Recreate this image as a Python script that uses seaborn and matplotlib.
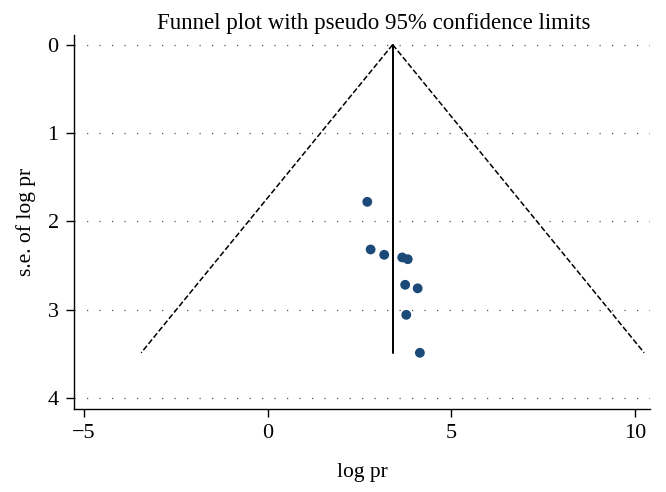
import matplotlib.pyplot as plt
import numpy as np
import pandas as pd
import seaborn as sns

# study estimates
log_pr = [2.71, 2.80, 3.17, 3.66, 3.81, 3.74, 4.08, 3.77, 4.14]
se_log_pr = [1.78, 2.32, 2.38, 2.41, 2.43, 2.72, 2.76, 3.06, 3.49]
pooled = 3.40
max_se = 3.49
z95 = 1.96

sns.set_theme(style="ticks")
plt.rcParams['font.family'] = ['Liberation Serif', 'DejaVu Serif']
plt.rcParams['text.color'] = 'black'
plt.rcParams['axes.labelcolor'] = 'black'

df = pd.DataFrame({"log pr": log_pr, "se": se_log_pr})

fig = plt.figure(figsize=(6.66, 4.92), dpi=100)
ax = fig.add_axes([0.111, 0.169, 0.865, 0.76])

# horizontal dotted grid
for yv in range(5):
    ax.axhline(yv, color="#555555", linestyle=(0, (1, 9)), linewidth=0.9, zorder=0)

# pseudo 95% limits
se_line = np.array([0, max_se])
ax.plot(pooled - z95 * se_line, se_line, color="black", linestyle="--", linewidth=1.1)
ax.plot(pooled + z95 * se_line, se_line, color="black", linestyle="--", linewidth=1.1)
ax.plot([pooled, pooled], se_line, color="black", linewidth=1.4)

sns.scatterplot(data=df, x="log pr", y="se", ax=ax, color="#1b4a78",
                s=50, edgecolor="none", zorder=3)

ax.set_xlim(-5.27, 10.4)
ax.set_ylim(4.125, -0.11)
ax.set_xticks([-5, 0, 5, 10])
ax.set_xticklabels(["\u22125", "0", "5", "10"])
ax.set_yticks([0, 1, 2, 3, 4])
ax.tick_params(axis="both", direction="out", length=6, width=1, labelsize=16,
               colors="black", pad=5)
for side in ["top", "right"]:
    ax.spines[side].set_visible(False)
for side in ["left", "bottom"]:
    ax.spines[side].set_color("black")
    ax.spines[side].set_linewidth(1)

ax.set_xlabel("log pr", fontsize=15.5, labelpad=14)
ax.set_ylabel("s.e. of log pr", fontsize=15.5, labelpad=8)
ax.set_title("Funnel plot with pseudo 95% confidence limits", fontsize=16.5,
             pad=4, x=0.52, color="black")

fig.savefig("out.png", dpi=100)
